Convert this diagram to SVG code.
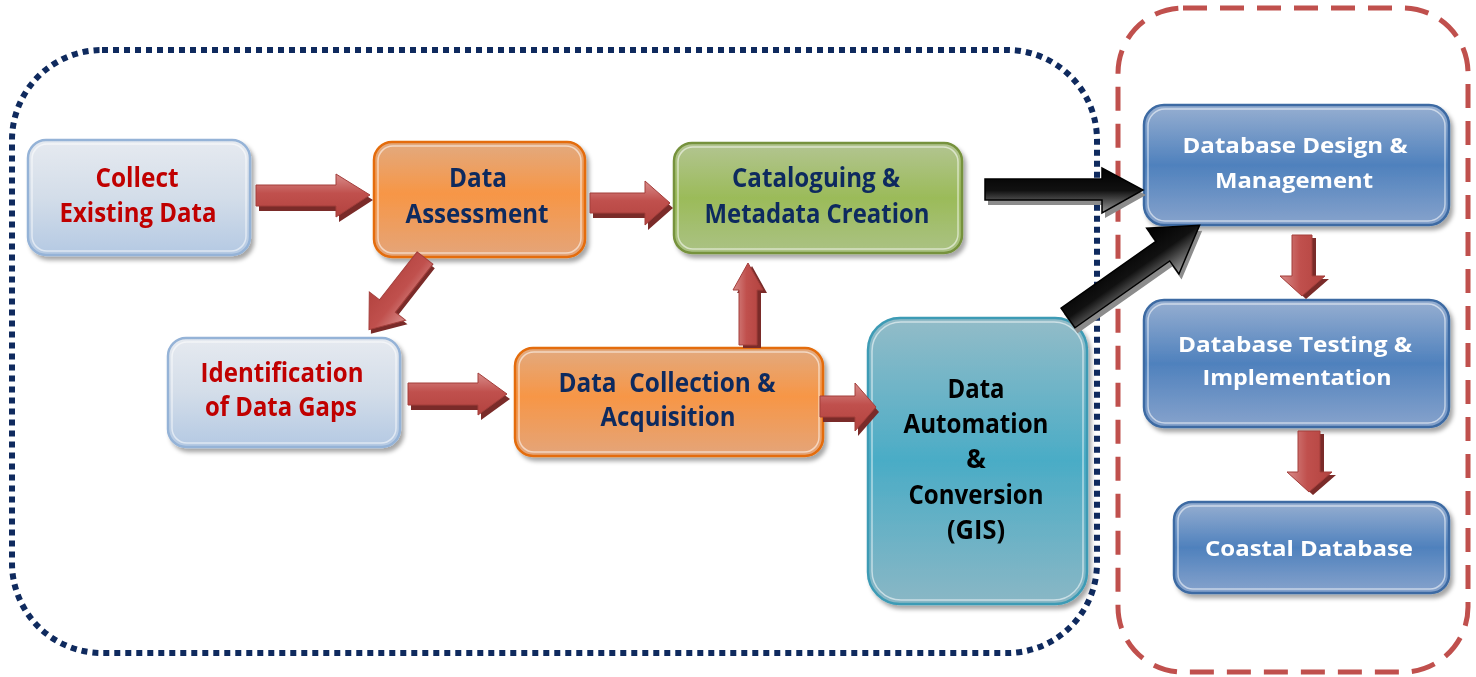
<svg xmlns="http://www.w3.org/2000/svg" width="1476" height="677" viewBox="0 0 1476 677">
<defs>
<linearGradient id="gLB" x1="0" y1="0" x2="0" y2="1"><stop offset="0" stop-color="#e6eaf0"/><stop offset="0.5" stop-color="#d3dde9"/><stop offset="1" stop-color="#b4c9e3"/></linearGradient>
<linearGradient id="gOR" x1="0" y1="0" x2="0" y2="1"><stop offset="0" stop-color="#e2aa80"/><stop offset="0.45" stop-color="#f79646"/><stop offset="1" stop-color="#e4a57a"/></linearGradient>
<linearGradient id="gGR" x1="0" y1="0" x2="0" y2="1"><stop offset="0" stop-color="#b3c592"/><stop offset="0.5" stop-color="#9bbb59"/><stop offset="1" stop-color="#abc285"/></linearGradient>
<linearGradient id="gTE" x1="0" y1="0" x2="0" y2="1"><stop offset="0" stop-color="#93bcc8"/><stop offset="0.5" stop-color="#4aacc6"/><stop offset="1" stop-color="#8ab7c5"/></linearGradient>
<linearGradient id="gBL" x1="0" y1="0" x2="0" y2="1"><stop offset="0" stop-color="#97afd1"/><stop offset="0.5" stop-color="#4f81bd"/><stop offset="1" stop-color="#87a3cc"/></linearGradient>
<linearGradient id="gRA" x1="0" y1="0" x2="0" y2="1"><stop offset="0" stop-color="#d88c8a"/><stop offset="0.45" stop-color="#c0504d"/><stop offset="1" stop-color="#b3433f"/></linearGradient>
<linearGradient id="gRV" x1="0" y1="0" x2="1" y2="0"><stop offset="0" stop-color="#d88c8a"/><stop offset="0.45" stop-color="#c0504d"/><stop offset="1" stop-color="#b3433f"/></linearGradient>
<linearGradient id="gBK" x1="0" y1="0" x2="0" y2="1"><stop offset="0" stop-color="#000"/><stop offset="0.5" stop-color="#111"/><stop offset="1" stop-color="#9a9a9a"/></linearGradient>
<filter id="sh" x="-10%" y="-10%" width="125%" height="130%"><feDropShadow dx="3" dy="4" stdDeviation="2" flood-color="#000" flood-opacity="0.35"/></filter>
</defs>
<style>
.n{stroke-width:2.5}
.hl{fill:none;stroke:#fff;stroke-opacity:0.55;stroke-width:1.5}
.t{font-family:"Open Sans","Liberation Sans",Arial,sans-serif;font-weight:bold;font-size:26px;text-anchor:middle}
.tr{fill:#c00000}
.tn{fill:#0f2a5e}
.tk{fill:#000}
.tw{font-family:"Open Sans","Liberation Sans",Arial,sans-serif;font-weight:bold;font-size:22px;text-anchor:middle;fill:#fff}
.ra{fill:url(#gRA);stroke:#a33e3b;stroke-width:1}
.rv{fill:url(#gRV);stroke:#a33e3b;stroke-width:1}
.rs{fill:#7a2b29}
.ba{fill:url(#gBK);stroke:#000;stroke-width:1.5}
.bs{fill:#8c8c8c}
</style>
<g id="containers">
<rect x="12" y="50" width="1085" height="603" rx="90" fill="none" stroke="#0f2a5e" stroke-width="6" stroke-dasharray="6 5"/>
<rect x="1118" y="8" width="350" height="664" rx="65" fill="none" stroke="#c0504d" stroke-width="5" stroke-dasharray="24 13"/>
</g>
<g id="n-collect" filter="url(#sh)">
<rect class="n" x="28" y="140" width="222" height="115" rx="18" fill="url(#gLB)" stroke="#95b3d7"/>
<rect class="hl" x="32" y="144" width="214" height="107" rx="15"/>
<text class="t tr" x="137" y="187" textLength="83" lengthAdjust="spacingAndGlyphs">Collect</text>
<text class="t tr" x="138" y="222" textLength="157" lengthAdjust="spacingAndGlyphs">Existing Data</text>
</g>
<g id="n-assess" filter="url(#sh)">
<rect class="n" x="374" y="142" width="211" height="115" rx="18" fill="url(#gOR)" stroke="#e46c0a"/>
<rect class="hl" x="378" y="146" width="203" height="107" rx="15"/>
<text class="t tn" x="478" y="187" textLength="58" lengthAdjust="spacingAndGlyphs">Data</text>
<text class="t tn" x="477" y="223" textLength="143" lengthAdjust="spacingAndGlyphs">Assessment</text>
</g>
<g id="n-catalog" filter="url(#sh)">
<rect class="n" x="674" y="143" width="288" height="110" rx="18" fill="url(#gGR)" stroke="#76923c"/>
<rect class="hl" x="678" y="147" width="280" height="102" rx="15"/>
<text class="t tn" x="816" y="187" textLength="168" lengthAdjust="spacingAndGlyphs">Cataloguing &amp;</text>
<text class="t tn" x="817" y="223" textLength="225" lengthAdjust="spacingAndGlyphs">Metadata Creation</text>
</g>
<g id="n-gaps" filter="url(#sh)">
<rect class="n" x="168" y="338" width="232" height="109" rx="18" fill="url(#gLB)" stroke="#95b3d7"/>
<rect class="hl" x="172" y="342" width="224" height="101" rx="15"/>
<text class="t tr" x="282" y="382" textLength="163" lengthAdjust="spacingAndGlyphs">Identification</text>
<text class="t tr" x="281" y="416" textLength="152" lengthAdjust="spacingAndGlyphs">of Data Gaps</text>
</g>
<g id="n-collection" filter="url(#sh)">
<rect class="n" x="515" y="348" width="308" height="108" rx="18" fill="url(#gOR)" stroke="#e46c0a"/>
<rect class="hl" x="519" y="352" width="300" height="100" rx="15"/>
<text class="t tn" x="667" y="392" style="white-space:pre" textLength="217" lengthAdjust="spacingAndGlyphs">Data  Collection &amp;</text>
<text class="t tn" x="668" y="426" textLength="135" lengthAdjust="spacingAndGlyphs">Acquisition</text>
</g>
<g id="n-automation" filter="url(#sh)">
<rect class="n" x="868" y="318" width="219" height="286" rx="32" fill="url(#gTE)" stroke="#3d9bb5"/>
<rect class="hl" x="872" y="322" width="211" height="278" rx="29"/>
<text class="t tk" x="976" y="398" textLength="57" lengthAdjust="spacingAndGlyphs">Data</text>
<text class="t tk" x="976" y="433" textLength="145" lengthAdjust="spacingAndGlyphs">Automation</text>
<text class="t tk" x="976" y="468">&amp;</text>
<text class="t tk" x="976" y="504" textLength="135" lengthAdjust="spacingAndGlyphs">Conversion</text>
<text class="t tk" x="976" y="539" textLength="58" lengthAdjust="spacingAndGlyphs">(GIS)</text>
</g>
<g id="n-dbdesign" filter="url(#sh)">
<rect class="n" x="1144" y="105" width="305" height="120" rx="20" fill="url(#gBL)" stroke="#3d6ba3"/>
<rect class="hl" x="1148" y="109" width="297" height="112" rx="17"/>
<text class="tw" x="1295" y="153" textLength="225" lengthAdjust="spacingAndGlyphs">Database Design &amp;</text>
<text class="tw" x="1294" y="188" textLength="158" lengthAdjust="spacingAndGlyphs">Management</text>
</g>
<g id="n-dbtest" filter="url(#sh)">
<rect class="n" x="1144" y="300" width="305" height="127" rx="20" fill="url(#gBL)" stroke="#3d6ba3"/>
<rect class="hl" x="1148" y="304" width="297" height="119" rx="17"/>
<text class="tw" x="1295" y="352" textLength="234" lengthAdjust="spacingAndGlyphs">Database Testing &amp;</text>
<text class="tw" x="1297" y="385" textLength="189" lengthAdjust="spacingAndGlyphs">Implementation</text>
</g>
<g id="n-coastal" filter="url(#sh)">
<rect class="n" x="1174" y="502" width="275" height="91" rx="18" fill="url(#gBL)" stroke="#3d6ba3"/>
<rect class="hl" x="1178" y="506" width="267" height="83" rx="15"/>
<text class="tw" x="1309" y="556" textLength="208" lengthAdjust="spacingAndGlyphs">Coastal Database</text>
</g>
<g id="connectors">
<g transform="translate(3,5)"><polygon class="rs" points="256,185 336,185 336,174 370,195 336,217 336,206 256,206"/></g>
<polygon class="ra" points="256,185 336,185 336,174 370,195 336,217 336,206 256,206"/>
<g transform="translate(3,5)"><polygon class="rs" points="590,193 645,193 645,181 670,203 645,225 645,213 590,213"/></g>
<polygon class="ra" points="590,193 645,193 645,181 670,203 645,225 645,213 590,213"/>
<g transform="translate(425,258) rotate(128)">
<polygon class="rs" transform="translate(2,-4)" points="0,-10 61,-10 61,-23 91,0 61,23 61,10 0,10"/>
<polygon class="ra" points="0,-10 61,-10 61,-23 91,0 61,23 61,10 0,10"/>
</g>
<g transform="translate(3,5)"><polygon class="rs" points="408,383 478,383 478,373 507,394 478,415 478,405 408,405"/></g>
<polygon class="ra" points="408,383 478,383 478,373 507,394 478,415 478,405 408,405"/>
<g transform="translate(3,5)"><polygon class="rs" points="820,396 855,396 855,383 876,407 855,431 855,417 820,417"/></g>
<polygon class="ra" points="820,396 855,396 855,383 876,407 855,431 855,417 820,417"/>
<g transform="translate(4,3)"><polygon class="rs" points="739,345 739,290 733,290 748,263 763,290 757,290 757,345"/></g>
<polygon class="rv" points="739,345 739,290 733,290 748,263 763,290 757,290 757,345"/>
<g transform="translate(4,3)"><polygon class="rs" points="1292,235 1312,235 1312,276 1325,276 1302,296 1280,276 1292,276"/></g>
<polygon class="rv" points="1292,235 1312,235 1312,276 1325,276 1302,296 1280,276 1292,276"/>
<g transform="translate(4,3)"><polygon class="rs" points="1298,431 1320,431 1320,472 1332,472 1309,492 1287,472 1298,472"/></g>
<polygon class="rv" points="1298,431 1320,431 1320,472 1332,472 1309,492 1287,472 1298,472"/>
<g transform="translate(3,5)"><polygon class="bs" points="985,179 1102,179 1102,168 1143,190 1102,213 1102,200 985,200"/></g>
<polygon class="ba" points="985,179 1102,179 1102,168 1143,190 1102,213 1102,200 985,200"/>
<g transform="translate(1068,318) rotate(-35.2)">
<polygon class="bs" transform="translate(-1,6)" points="0,-12 116,-12 116,-28 161,0 116,28 116,12 0,12"/>
<polygon class="ba" points="0,-12 116,-12 116,-28 161,0 116,28 116,12 0,12"/>
</g>
</g>
</svg>
